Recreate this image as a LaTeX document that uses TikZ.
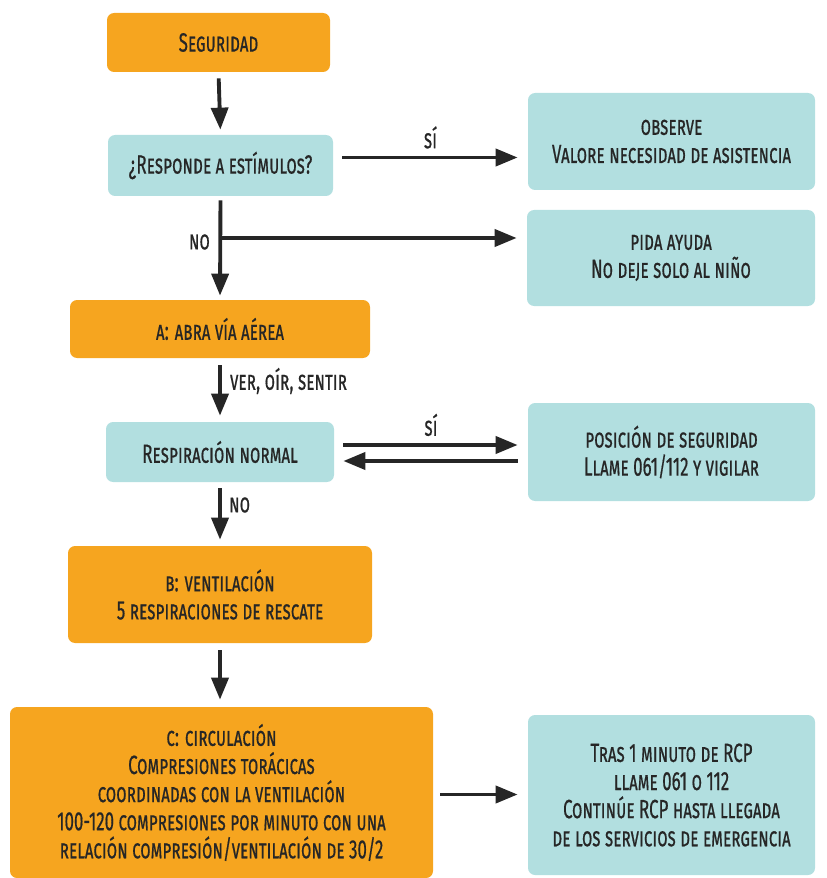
\documentclass[tikz,border=0pt]{standalone}
\usepackage{fontspec}
\setmainfont{Fira Sans}[FakeStretch=0.64,FakeBold=0.5]
\usepackage{tikz}
\usetikzlibrary{arrows.meta,positioning}

\definecolor{naranja}{HTML}{F6A51F}
\definecolor{turquesa}{HTML}{B2DFE0}
\definecolor{tinta}{HTML}{262626}
\newcommand{\pxu}{0.02cm}

\tikzset{
  caja/.style={rectangle,rounded corners=4pt,align=center,inner sep=2pt,
    text=tinta,font=\fontsize{15}{16}\selectfont\scshape},
  cajanar/.style={caja,fill=naranja},
  cajatur/.style={caja,fill=turquesa},
  flecha/.style={draw=tinta,line width=2.2pt,-{Triangle[length=0.44cm,width=0.34cm]}},
  etiq/.style={text=tinta,font=\fontsize{15}{16}\selectfont\scshape,inner sep=1pt}
}

\begin{document}
\begin{tikzpicture}[x=0.02cm,y=-0.02cm]
  \useasboundingbox (0,0) rectangle (826,878);
  % columna izquierda
  \node[cajanar,minimum width=223*\pxu,minimum height=59*\pxu] (seg) at (218.5,42.5) {Seguridad};
  \node[cajatur,minimum width=225*\pxu,minimum height=61*\pxu] (resp) at (220.5,165.5) {¿Responde a estímulos?};
  \node[cajanar,minimum width=300*\pxu,minimum height=58*\pxu] (abra) at (220,329) {a: abra vía aérea};
  \node[cajatur,minimum width=228*\pxu,minimum height=60*\pxu] (respn) at (220,452) {Respiración normal};
  \node[cajanar,minimum width=304*\pxu,minimum height=97*\pxu] (vent) at (220,594.5) {b: ventilación\\5 respiraciones de rescate};
  \node[cajanar,minimum width=423*\pxu,minimum height=171*\pxu] (circ) at (221.5,792.5)
    {c: circulación\\Compresiones torácicas\\coordinadas con la ventilación\\100-120 compresiones por minuto con una\\relación compresión/ventilación de 30/2};
  % columna derecha
  \node[cajatur,minimum width=287*\pxu,minimum height=97*\pxu] (obs) at (671.5,141.5) {observe\\Valore necesidad de asistencia};
  \node[cajatur,minimum width=288*\pxu,minimum height=96*\pxu] (pida) at (671,258) {pida ayuda\\No deje solo al niño};
  \node[cajatur,minimum width=287*\pxu,minimum height=98*\pxu] (pos) at (671.5,452) {posición de seguridad\\Llame 061/112 y vigilar};
  \node[cajatur,minimum width=287*\pxu,minimum height=160*\pxu] (tras) at (671.5,795)
    {Tras 1 minuto de RCP\\llame 061 o 112\\Continúe RCP hasta llegada\\de los servicios de emergencia};

  % flechas
  \draw[flecha,shorten <=6*\pxu,shorten >=5*\pxu] (seg.south) -- (resp.north);
  \draw[flecha,shorten <=9*\pxu,shorten >=10*\pxu] ([yshift=8*\pxu]resp.east) -- ([yshift=8*\pxu]resp.east -| obs.west)
    node[etiq,midway,above=3pt] (si1) {sí};
  \coordinate (rama) at (220,238);
  \draw[flecha,shorten <=4*\pxu,shorten >=4*\pxu] (resp.south) -- (abra.north);
  \draw[flecha,shorten >=10*\pxu] (rama) -- (rama -| pida.west);
  \node[etiq,anchor=east] (no1) at (212,242) {no};
  \draw[flecha,shorten <=7*\pxu,shorten >=6*\pxu] (abra.south) -- (respn.north);
  \node[etiq,anchor=west] (ver) at (228,381) {ver, oír, sentir};
  \draw[flecha,shorten <=9*\pxu,shorten >=10*\pxu] ([yshift=7*\pxu]respn.east) -- ([yshift=7*\pxu]respn.east -| pos.west)
    node[etiq,midway,above=3pt] (si2) {sí};
  \draw[flecha,shorten <=10*\pxu,shorten >=9*\pxu] ([yshift=-9*\pxu]respn.east -| pos.west) -- ([yshift=-9*\pxu]respn.east);
  \draw[flecha,shorten <=6*\pxu,shorten >=6*\pxu] (respn.south) -- (vent.north);
  \node[etiq,anchor=west] (no2) at (227,505) {no};
  \draw[flecha,shorten <=7*\pxu,shorten >=7*\pxu] (vent.south) -- (vent.south |- circ.north);
  \draw[flecha,shorten <=7*\pxu,shorten >=10*\pxu] ([yshift=-2*\pxu]circ.east) -- ([yshift=-2*\pxu]circ.east -| tras.west);
\end{tikzpicture}
\end{document}
